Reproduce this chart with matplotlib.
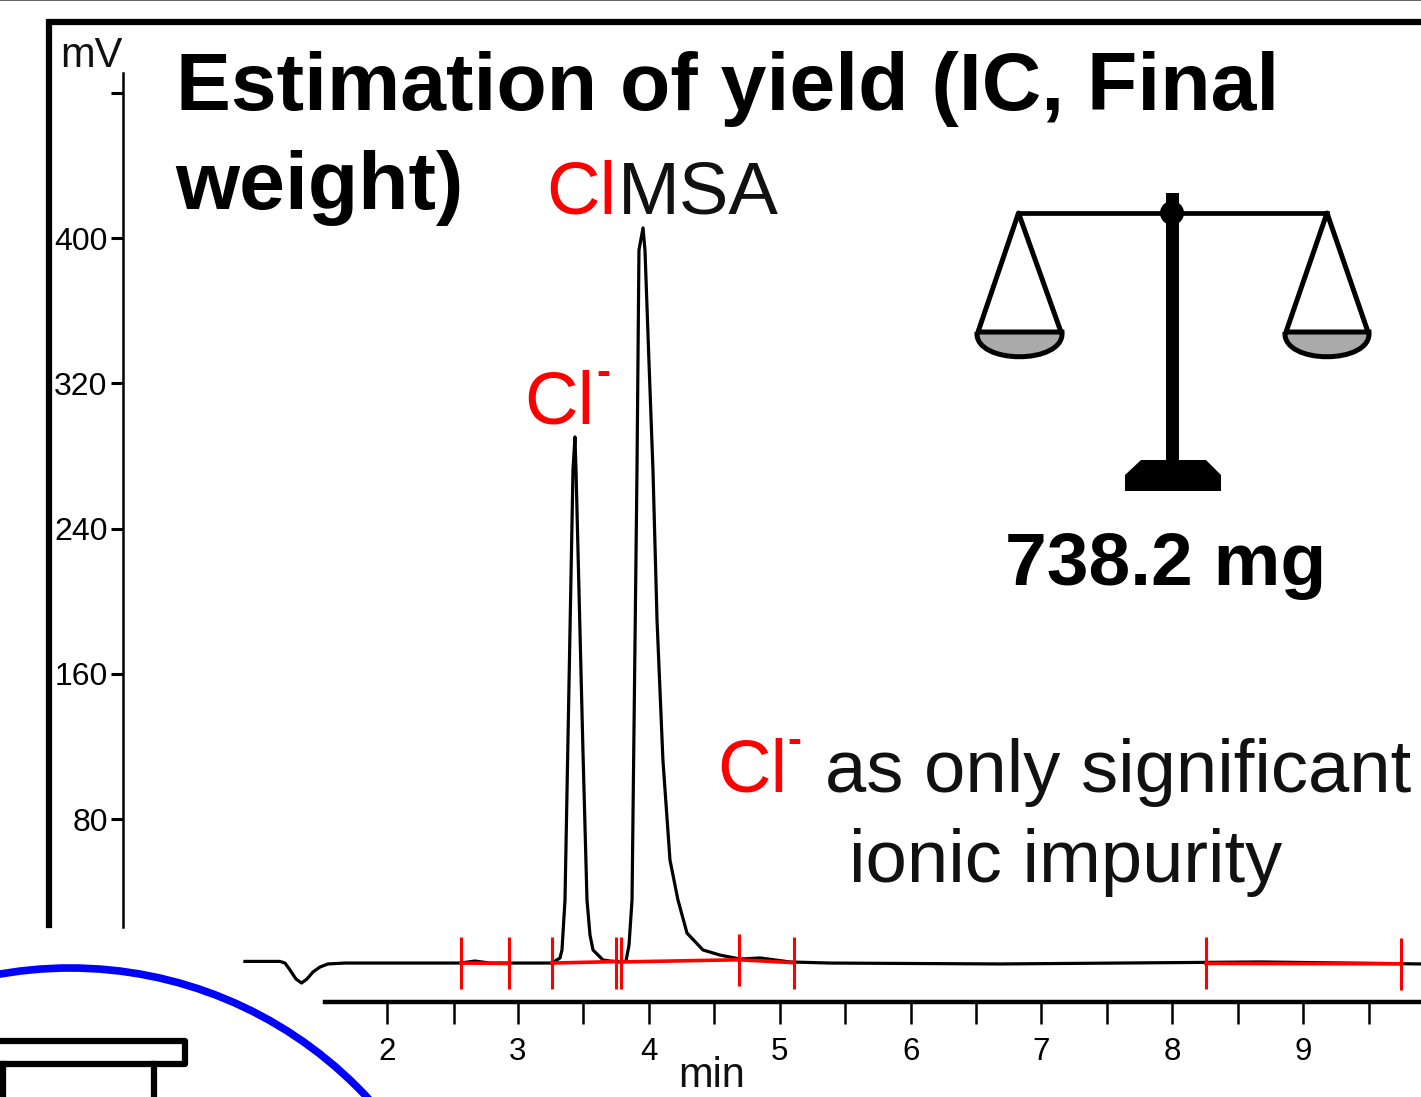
#!/usr/bin/env python3
"""
Ion chromatogram of the final product with integration marks and a balance sketch.
"""

import matplotlib
matplotlib.use('Agg')
import matplotlib.pyplot as plt
from matplotlib.patches import Circle, PathPatch, Polygon
from matplotlib.path import Path

plt.rcParams['font.family'] = ['Liberation Sans', 'DejaVu Sans']

# Chromatogram trace (min, mV)
trace_time = [0.915, 1.183, 1.221, 1.259, 1.305, 1.347, 1.389, 1.435, 1.488, 1.549, 1.679, 2.558, 2.672, 2.787,
              3.26, 3.322, 3.337, 3.36, 3.421, 3.436, 3.444, 3.497, 3.528, 3.551, 3.574,
              3.65, 3.704, 3.795, 3.826, 3.849, 3.872, 3.91, 3.925, 3.956, 3.971, 4.001, 4.032,
              4.063, 4.108, 4.162, 4.223, 4.292, 4.414, 4.544, 4.697, 4.85, 5.079, 5.384, 6.683,
              8.669, 9.9]
trace_mv = [1.7, 1.7, 0.8, -3.0, -8.0, -10.2, -8.0, -4.1, -1.4, 0.3, 0.8, 0.8, 1.9, 0.8,
            0.8, 3.6, 8.0, 35.5, 272.3, 290.5, 272.3, 118.1, 35.5, 16.2, 8.0,
            2.5, 1.9, 1.4, 1.9, 10.7, 35.5, 272.3, 393.4, 405.6, 393.4, 332.9, 272.3,
            189.7, 112.6, 57.5, 35.5, 17.3, 8.0, 5.2, 3.0, 3.6, 1.4, 0.8, 0.3,
            1.4, 0.3]

# Integration baselines (start, end of each peak window)
base_time = [[2.565, 2.932], [3.26, 3.753], [3.784, 4.689], [4.689, 5.109], [8.257, 9.746]]
base_mv = [[0.8, 0.6], [0.8, 1.6], [1.4, 2.6], [2.6, 1.0], [0.6, 0.4]]

# Integration window marks
mark_time = [2.565, 2.932, 3.26, 3.753, 3.784, 4.689, 5.109, 8.257, 9.746]
mark_mv = [0.8, 0.6, 0.8, 1.0, 1.0, 2.6, 1.0, 0.6, 0.4]
mark_half = 14.3

x_major = [2, 3, 4, 5, 6, 7, 8, 9]
x_minor = [2.51, 3.5, 4.5, 5.5, 6.5, 7.5, 8.5, 9.5]
y_ticks = [80, 160, 240, 320, 400, 480]
y_tick_labels = ['80', '160', '240', '320', '400', '']

W, H = 1421, 1097
fig = plt.figure(figsize=(W / 100, H / 100), dpi=100)

# Pixel canvas for the decoration and labels
deco = fig.add_axes([0, 0, 1, 1], zorder=1)
deco.set_xlim(0, W)
deco.set_ylim(H, 0)
deco.axis('off')

# Chart axes fill the figure, so the spines are moved to where the axes really sit
ax = fig.add_axes([0, 0, 1, 1], zorder=2)
ax.patch.set_alpha(0)
ax.set_xlim(-0.956, 9.899)
ax.set_ylim(-72.96, 531.1)
ax.spines['top'].set_visible(False)
ax.spines['right'].set_visible(False)
ax.spines['left'].set_position(('data', -0.017))
ax.spines['left'].set_bounds(20.6, 490.9)
ax.spines['left'].set_linewidth(1.8)
ax.spines['bottom'].set_position(('data', -20.6))
ax.spines['bottom'].set_bounds(1.526, 9.899)
ax.spines['bottom'].set_linewidth(3.2)

ax.set_xticks(x_major)
ax.set_xticks(x_minor, minor=True)
ax.set_yticks(y_ticks)
ax.set_yticklabels(y_tick_labels)
ax.tick_params(axis='x', which='both', length=16, width=1.8, direction='out')
ax.tick_params(axis='x', which='major', labelsize=22.5, pad=9)
ax.tick_params(axis='y', length=8.5, width=2.2, labelsize=23, pad=2.5)

ax.plot(trace_time, trace_mv, color='black', linewidth=2.3, solid_joinstyle='round', zorder=3)
for t, v in zip(base_time, base_mv):
    ax.plot(t, v, color='#ff0000', linewidth=2.6, zorder=4)
ax.vlines(mark_time, [m - mark_half for m in mark_mv], [m + mark_half for m in mark_mv],
          color='#ff0000', linewidth=2.2, zorder=5)

# Frame
deco.plot([0, W], [0, 0], color='#666666', linewidth=1.5, clip_on=True)
deco.plot([49, 49, W], [925, 22, 22], color='black', linewidth=4.5, solid_joinstyle='miter')

# Blue circle and the box below it
deco.add_patch(Circle((70, 1374), 406, fill=False, edgecolor='#0000ff', linewidth=5.5))
deco.plot([-10, 185, 185, -10], [1041, 1041, 1064, 1064], color='black', linewidth=4.5,
          solid_joinstyle='round')
deco.plot([3, 3], [1064, 1100], color='black', linewidth=4.5)
deco.plot([154, 154], [1064, 1100], color='black', linewidth=4.5)

# Balance
deco.plot([1018.5, 1327], [213, 213], color='black', linewidth=3.4)
deco.add_patch(Polygon([(1165.5, 193), (1178.5, 193), (1178.5, 465), (1165.5, 465)],
                       facecolor='black', edgecolor='none'))
deco.add_patch(Circle((1172, 213), 12, facecolor='black', edgecolor='none'))
deco.add_patch(Polygon([(1125, 475), (1141, 460), (1206, 460), (1221, 475), (1221, 491), (1125, 491)],
                       facecolor='black', edgecolor='none'))
for apex, left, right in [(1018.5, 977, 1062), (1327, 1285, 1369)]:
    deco.plot([left + 1, apex, right - 1], [332, 213, 332], color='black', linewidth=3.6,
              solid_joinstyle='round', solid_capstyle='round')
    pan = Path([(left, 332), (left - 3, 365), (right + 3, 365), (right, 332), (left, 332)],
               [Path.MOVETO, Path.CURVE4, Path.CURVE4, Path.CURVE4, Path.LINETO])
    deco.add_patch(PathPatch(pan, facecolor='#aaaaaa', edgecolor='black', linewidth=3.6))

# Text
deco.text(60, 67, 'mV', fontsize=30, color='#111111')
deco.text(176, 110, 'Estimation of yield (IC, Final', fontsize=59.3, fontweight='bold', color='black')
deco.text(175, 209, 'weight)', fontsize=59.3, fontweight='bold', color='black')
deco.text(546, 214, 'Cl', fontsize=53.5, color='#ff0000')
deco.text(618, 214, 'MSA', fontsize=53.5, color='#111111')
deco.text(524, 424, 'Cl', fontsize=53.5, color='#ff0000')
deco.text(596, 385, '-', fontsize=30, fontweight='bold', color='#ff0000')
deco.text(1005, 585, '738.2 mg', fontsize=54, fontweight='bold', color='black')
deco.text(717, 792, 'Cl', fontsize=53.5, color='#ff0000')
deco.text(787, 753, '-', fontsize=30, fontweight='bold', color='#ff0000')
deco.text(825, 792, 'as only significant', fontsize=53.5, color='#111111')
deco.text(849, 882, 'ionic impurity', fontsize=53.5, color='#111111')
deco.text(678, 1087, 'min', fontsize=30, color='#111111')

fig.savefig('out.png', dpi=100)
